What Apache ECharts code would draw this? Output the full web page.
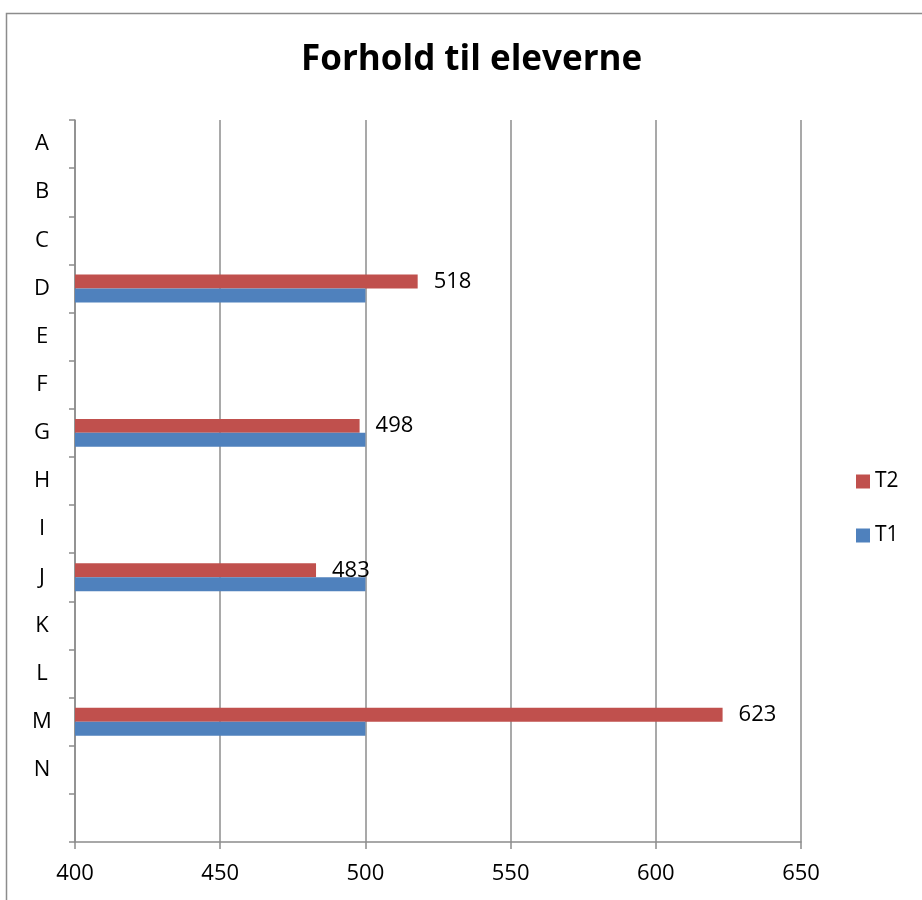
<!DOCTYPE html>
<html>
<head>
<meta charset="utf-8">
<script src="https://cdn.jsdelivr.net/npm/echarts@6/dist/echarts.min.js"></script>
<style>
  html, body { margin: 0; padding: 0; background: #fff; }
  #chart { width: 922px; height: 900px; }
</style>
</head>
<body>
<div id="chart"></div>
<script>
// Categories, top to bottom (last slot is an unlabeled spacer row)
const categories = ['A', 'B', 'C', 'D', 'E', 'F', 'G', 'H', 'I', 'J', 'K', 'L', 'M', 'N', ''];
// Scores per category; '-' marks categories without a value
const t2Values = ['-', '-', '-', 518, '-', '-', 498, '-', '-', 483, '-', '-', 623, '-', '-'];
const t1Values = ['-', '-', '-', 500, '-', '-', 500, '-', '-', 500, '-', '-', 500, '-', '-'];
const xTicks = [400, 450, 500, 550, 600, 650];

const FONT = 'Open Sans';
const chart = echarts.init(document.getElementById('chart'), null, { renderer: 'canvas' });

chart.setOption({
  backgroundColor: '#ffffff',
  animation: false,
  title: {
    text: 'Forhold til eleverne',
    left: 296,
    top: 38,
    textStyle: { fontFamily: FONT, fontWeight: 'bold', fontSize: 35, color: '#000' }
  },
  graphic: [{
    type: 'rect',
    shape: { x: 6.5, y: 13.5, width: 930, height: 900 },
    style: { fill: 'none', stroke: '#8c8c8c', lineWidth: 1.5 },
    silent: true
  }],
  legend: {
    orient: 'vertical',
    left: 852,
    top: 467,
    padding: [4, 4, 4, 4],
    itemWidth: 14,
    itemHeight: 14,
    itemGap: 33,
    icon: 'rect',
    data: ['T2', 'T1'],
    textStyle: { fontFamily: FONT, fontSize: 21, lineHeight: 14, color: '#000', padding: [0, 0, 0, 0] }
  },
  grid: { left: 75, right: 121, top: 120, bottom: 58 },
  xAxis: {
    type: 'value',
    min: xTicks[0],
    max: xTicks[xTicks.length - 1],
    interval: 50,
    axisLine: { show: true, lineStyle: { color: '#8c8c8c', width: 1.5 } },
    axisTick: { show: true, length: 7, lineStyle: { color: '#8c8c8c', width: 1.5 } },
    axisLabel: { fontFamily: FONT, fontSize: 22, color: '#000', margin: 21 },
    splitLine: { show: true, lineStyle: { color: '#8c8c8c', width: 1.5 } }
  },
  yAxis: {
    type: 'category',
    data: categories,
    inverse: true,
    axisLine: { show: true, lineStyle: { color: '#8c8c8c', width: 1.5 } },
    axisTick: { show: true, length: 6, lineStyle: { color: '#8c8c8c', width: 1.5 } },
    axisLabel: { fontFamily: FONT, fontSize: 22, color: '#000', align: 'center', margin: 33 },
    splitLine: { show: false }
  },
  series: [
    {
      name: 'T2',
      type: 'bar',
      data: t2Values,
      barGap: '0%',
      barCategoryGap: '42%',
      itemStyle: { color: '#C0504D' },
      label: {
        show: true,
        position: 'right',
        distance: 16,
        fontFamily: FONT,
        fontSize: 22,
        color: '#000'
      }
    },
    {
      name: 'T1',
      type: 'bar',
      data: t1Values,
      barGap: '0%',
      barCategoryGap: '42%',
      itemStyle: { color: '#4F81BD' }
    }
  ]
});
</script>
</body>
</html>
